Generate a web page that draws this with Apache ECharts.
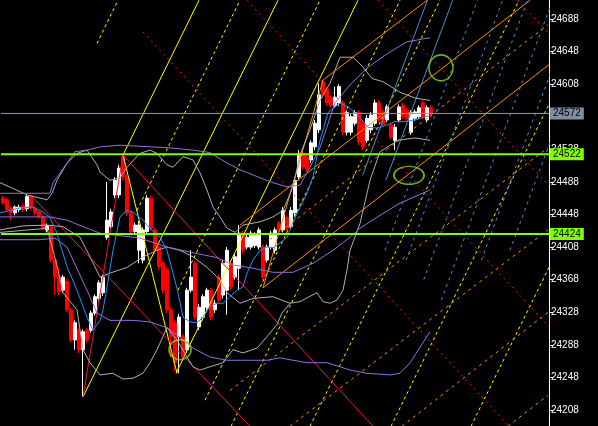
<!DOCTYPE html>
<html><head><meta charset="utf-8">
<script src="https://cdn.jsdelivr.net/npm/echarts@6/dist/echarts.min.js"></script>
<style>html,body{margin:0;padding:0;background:#000;}#c{width:598px;height:426px;}</style>
</head><body><div id="c"></div>
<script>
// ---- data ----
const yTicks = [24208,24248,24288,24328,24368,24408,24448,24488,24528,24568,24608,24648,24688];
const lastPrice = 24572, levelHigh = 24522, levelLow = 24424;
// [open, close, low, high]
const candles = [
[24468,24462,24460,24471],[24466,24454,24451,24468],[24456,24450,24441,24458],[24450,24457,24447,24459],
[24454,24457,24451,24460],[24458,24454,24451,24461],[24455,24470,24452,24472],[24470,24456,24453,24472],
[24456,24450,24447,24458],[24451,24446,24443,24453],[24445,24431,24429,24447],[24429,24434,24426,24437],
[24433,24392,24389,24435],[24392,24371,24349,24394],[24371,24353,24349,24382],[24355,24371,24352,24374],
[24366,24331,24328,24369],[24331,24294,24291,24333],[24294,24315,24282,24318],[24306,24282,24278,24309],
[24282,24304,24224,24307],[24306,24294,24290,24309],[24306,24327,24303,24330],[24327,24347,24324,24350],
[24345,24364,24342,24367],[24352,24371,24348,24374],[24420,24441,24417,24488],[24433,24451,24430,24455],
[24472,24490,24468,24494],[24472,24505,24468,24509],[24519,24494,24490,24521],[24494,24450,24446,24497],
[24450,24427,24423,24453],[24427,24435,24423,24438],[24404,24435,24388,24440],[24392,24429,24388,24432],
[24427,24468,24423,24472],[24468,24431,24428,24471],[24429,24404,24400,24432],[24408,24384,24380,24410],
[24388,24355,24351,24391],[24380,24331,24327,24383],[24331,24298,24273,24334],[24315,24266,24255,24318],
[24298,24322,24253,24326],[24298,24273,24269,24301],[24282,24355,24278,24358],[24355,24371,24352,24404],
[24388,24322,24318,24391],[24310,24334,24306,24338],[24322,24347,24318,24350],[24334,24355,24331,24358],
[24355,24322,24318,24358],[24331,24339,24327,24343],[24371,24343,24339,24374],[24349,24388,24345,24392],
[24355,24404,24325,24408],[24388,24359,24355,24392],[24371,24396,24368,24399],[24382,24425,24355,24435],
[24425,24404,24400,24428],[24408,24420,24405,24424],[24408,24425,24405,24428],[24410,24423,24407,24426],
[24408,24429,24405,24432],[24408,24371,24368,24411],[24392,24408,24389,24411],[24408,24425,24405,24428],
[24404,24429,24400,24432],[24437,24429,24426,24440],[24429,24453,24426,24457],[24444,24431,24428,24447],
[24433,24453,24430,24457],[24450,24490,24446,24494],[24494,24523,24490,24527],[24521,24506,24503,24525],
[24519,24503,24500,24522],[24515,24536,24511,24539],[24531,24560,24527,24564],[24552,24595,24548,24609],
[24611,24595,24591,24613],[24601,24585,24581,24604],[24591,24582,24579,24594],[24582,24592,24579,24605],
[24585,24605,24581,24608],[24585,24549,24545,24588],[24549,24573,24545,24576],[24549,24568,24545,24571],
[24560,24573,24557,24576],[24573,24537,24533,24576],[24560,24531,24527,24564],[24539,24566,24536,24570],
[24552,24570,24548,24574],[24560,24585,24557,24589],[24585,24564,24561,24588],[24574,24558,24555,24577],
[24564,24580,24561,24583],[24558,24543,24540,24561],[24539,24555,24527,24559],[24564,24580,24561,24583],
[24582,24568,24565,24585],[24576,24566,24563,24579],[24549,24573,24546,24576],[24566,24574,24563,24577],
[24568,24579,24565,24582],[24585,24568,24565,24588],[24564,24579,24561,24582],[24579,24572,24567,24582]
];
const totalSlots = 137;
// indicator lines: [barIndex, price]
const blueMA = [[-0.75,24450],[1.75,24453],[4.25,24456],[7.5,24457],[10,24451],[11.75,24444],[13.5,24425],[14.75,24404],[16,24384],[18.5,24355],[21,24322],[22.5,24306],[24.25,24318],[25,24331],[26,24359],[27.5,24404],[29.25,24445],[31,24453],[32.5,24451],[35,24441],[36.75,24431],[39.25,24420],[41,24404],[42.5,24376],[43.75,24352],[45,24322],[46.75,24316],[48.5,24315],[50,24322],[51.75,24335],[53.5,24339],[55,24339],[56.75,24347],[58.5,24355],[60,24359],[61,24376],[62.5,24392],[64.25,24404],[66,24408],[67.5,24407],[69.25,24413],[71,24420],[72.5,24438],[74.25,24457],[76,24474],[77.5,24494],[79.25,24539],[81.25,24573],[84.25,24585],[86.25,24580],[88.75,24570],[91.25,24555],[93.75,24554],[96,24558],[98,24562],[100.5,24562],[103,24564],[105.5,24568],[107.25,24570]];
const grayUpper = [[-0.75,24487],[2.5,24480],[6,24472],[11,24466],[12.25,24474],[13.5,24490],[16,24511],[18.5,24523],[21,24527],[23.5,24509],[24.25,24500],[26.75,24490],[29.25,24493],[31,24506],[34.25,24523],[36.75,24527],[38.5,24523],[41,24509],[42.5,24506],[45,24519],[47.5,24515],[49.25,24499],[51,24478],[52.5,24457],[54.25,24445],[56,24431],[58,24426],[60,24435],[64.25,24439],[67.5,24445],[70,24453],[72.5,24482],[74.25,24521],[76.75,24552],[79.25,24588],[81.75,24609],[84.25,24641],[87.5,24641],[90,24629],[92.25,24615],[95,24611],[99.25,24598],[103,24591],[106.75,24588]];
const grayLowerInner = [[-0.75,24429],[5,24434],[11,24435],[15,24433],[19.25,24420],[21.75,24396],[24.25,24371],[26.75,24376],[31,24383],[35,24396],[38.5,24404],[41,24408],[44.25,24404],[47.5,24396],[51,24383],[54.25,24368],[56,24352],[59.25,24339],[62.5,24345],[67.5,24347],[71.75,24339],[74.25,24341],[78.5,24352],[80,24341],[81.75,24339],[83.5,24343],[85,24355],[86,24380],[86.75,24404],[89.25,24437],[91.75,24490],[94.25,24525],[98.75,24539],[103,24542],[106.75,24539]];
const grayLowerOuter = [[-0.75,24426],[11,24431],[12.5,24404],[13.75,24380],[15,24352],[18.5,24331],[20,24282],[21.75,24266],[24.25,24251],[27.5,24253],[30,24246],[32.5,24247],[35,24253],[36.75,24266],[38.5,24282],[41,24309],[43.5,24294],[46,24273],[47.5,24261],[49.25,24257],[51.75,24261],[55,24266],[57.5,24282],[60,24278],[63.5,24284],[66,24298],[68.5,24313],[69.75,24327],[71.75,24339]];
const purpleUpper = [[-0.75,24474],[11.75,24474],[12.5,24487],[16,24511],[18,24525],[21,24527],[24.25,24531],[29.25,24533],[41,24530],[47.5,24527],[51.75,24524],[56,24511],[59.25,24503],[64.25,24493],[67.5,24487],[71,24482],[74.25,24484],[76.75,24506],[79.25,24530],[83,24585],[86.75,24607],[91,24628],[96.25,24646],[101,24660],[106.75,24665]];
const purpleMid = [[-0.75,24445],[11.75,24445],[16,24441],[20,24433],[24.25,24425],[34.25,24419],[41,24408],[47.5,24401],[53.5,24395],[57.5,24386],[62.5,24382],[67.5,24377],[72.5,24377],[77.5,24388],[82.5,24404],[86.75,24420],[89.25,24431],[94.25,24447],[99.25,24462],[106.75,24478]];
const purpleLower = [[-0.75,24417],[9.25,24417],[13,24419],[16,24408],[21,24355],[23.5,24327],[26.75,24318],[32.5,24318],[36.75,24316],[41,24309],[45,24294],[47.5,24284],[51.75,24273],[56,24269],[60,24269],[66,24269],[69.25,24272],[72.5,24269],[76,24266],[81,24266],[84.25,24261],[86.75,24257],[91,24253],[96.75,24251],[99.25,24253],[101.75,24266],[104.25,24285],[106.75,24304]];
// trend / fan lines: [[bar, price],[bar, price]]
const yellowSolid = [[[30,24521],[49,24711]],[[20,24224],[68.75,24711]],[[43.25,24253],[88.75,24711]],[[30,24521],[43.5,24253]]];
const yellowDashed = [[[23.5,24658],[28.75,24711]],[[33.5,24453],[59.25,24711]],[[43.75,24355],[79.25,24711]],[[50.5,24220],[99.25,24711]],[[57,24188],[109.25,24711]],[[76.75,24188],[129,24711]],[[97,24188],[149.25,24711]],[[117,24188],[169.25,24711]]];
const redSolid = [[[20,24224],[30,24521]],[[7.25,24470],[61.75,24188]],[[30,24521],[92.5,24188]]];
const redDashed = [[[35,24672],[126.5,24188]],[[61,24711],[136.5,24310]],[[93.75,24711],[136.5,24483]],[[128.5,24711],[136.5,24670]]];
const orangeSolid = [[[65,24358],[80,24613]],[[80,24613],[106,24711]],[[59.25,24435],[131.75,24711]],[[65,24358],[136.5,24632]]];
const orangeDashed = [[[66.75,24417],[136.25,24681]],[[56.75,24232],[136.25,24530]],[[71.75,24188],[136.25,24429]],[[99.75,24188],[136.25,24328]],[[126.25,24188],[136.25,24226]]];
const blueSolid = [[[89.9,24496],[106.1,24711]],[[95.7,24490],[112.4,24711]]];
const blueDashed = [[[95.5,24404],[118.6,24711]],[[100.8,24392],[124.9,24711]],[[105.2,24368],[131.1,24711]],[[109.6,24343],[137.4,24711]],[[119.6,24392],[143.6,24711]],[[126.75,24404],[149.9,24711]]];
const circles = [[109.5,24628],[101.5,24496],[44.25,24282]];

// ---- chart ----
const circleSizes = [[24,26],[30,18],[22,20]];
const chart = echarts.init(document.getElementById('c'), null, {renderer:'canvas'});
const cats = Array.from({length: totalSlots}, (_, i) => String(i));
const series = [];
series.push({type:'candlestick', xAxisIndex:0, yAxisIndex:0, data:candles, barWidth:3, z:2,
  itemStyle:{color:'#ffffff', color0:'#ff0000', borderColor:'#ffffff', borderColor0:'#ff0000', borderWidth:1}});
function lineSeries(data, color, type, width, z){
  return {type:'line', xAxisIndex:1, yAxisIndex:0, data:data, symbol:'none', silent:true, z:z||3,
    lineStyle:{color:color, width:width||1, type:type||'solid'}};
}
const dashY=[3,3], dashR=[2,4], dashO=[3,4], dashB=[3,4];
yellowSolid.forEach(s=>series.push(lineSeries(s,'#ffff00')));
yellowDashed.forEach(s=>series.push(lineSeries(s,'#ffff00',dashY)));
redSolid.forEach(s=>series.push(lineSeries(s,'#f01040')));
redDashed.forEach(s=>series.push(lineSeries(s,'#ff1030',dashR)));
orangeSolid.forEach(s=>series.push(lineSeries(s,'#ff8c00')));
orangeDashed.forEach(s=>series.push(lineSeries(s,'#ff8c00',dashO)));
blueSolid.forEach(s=>series.push(lineSeries(s,'#4a8fd0')));
blueDashed.forEach(s=>series.push(lineSeries(s,'#4a8fd0',dashB)));
[grayUpper, grayLowerInner, grayLowerOuter].forEach(s=>series.push(lineSeries(s,'#b0b0b0','solid',1,4)));
[purpleUpper, purpleMid, purpleLower].forEach(s=>series.push(lineSeries(s,'#9370db','solid',1,4)));
series.push(lineSeries(blueMA,'#1e90ff','solid',1,5));
function level(price, color, width, bg){
  const s = lineSeries([[-0.5,price],[136.5,price]], color, 'solid', width, 8);
  s.endLabel = {show:true, formatter:()=>String(price), backgroundColor:bg, color:'#000', distance:1,
    padding:[1,3,1,3], fontSize:10, fontFamily:'Liberation Sans'};
  return s;
}
series.push(level(lastPrice,'#8a9aac',1,'#7f8fa0'));
series.push(level(levelHigh,'#7fff00',2,'#7fff00'));
series.push(level(levelLow,'#7fff00',2,'#7fff00'));
series.push({type:'scatter', xAxisIndex:1, yAxisIndex:0, z:7, silent:true,
  data: circles.map((c,k)=>({value:c, symbolSize:circleSizes[k]})), symbol:'circle',
  itemStyle:{color:'rgba(0,0,0,0)', borderColor:'#8fd42a', borderWidth:1.5}});

chart.setOption({
  backgroundColor:'#000', animation:false,
  grid:{left:1, right:49, top:0, bottom:0, containLabel:false},
  xAxis:[
    {type:'category', data:cats, boundaryGap:true, show:false},
    {type:'value', min:-0.5, max:136.5, show:false}
  ],
  yAxis:[{type:'value', position:'right', min:24188.3, max:24711.3, z:1,
    axisLine:{show:true, onZero:false, lineStyle:{color:'#ffffff', width:1}},
    axisTick:{show:true, length:4, inside:false, customValues:yTicks, lineStyle:{color:'#ffffff'}},
    axisLabel:{show:true, customValues:yTicks, formatter:v=>String(v), color:'#ffffff', fontSize:10, margin:2, fontFamily:'Liberation Sans'},
    splitLine:{show:false}}],
  series: series
});
</script></body></html>
